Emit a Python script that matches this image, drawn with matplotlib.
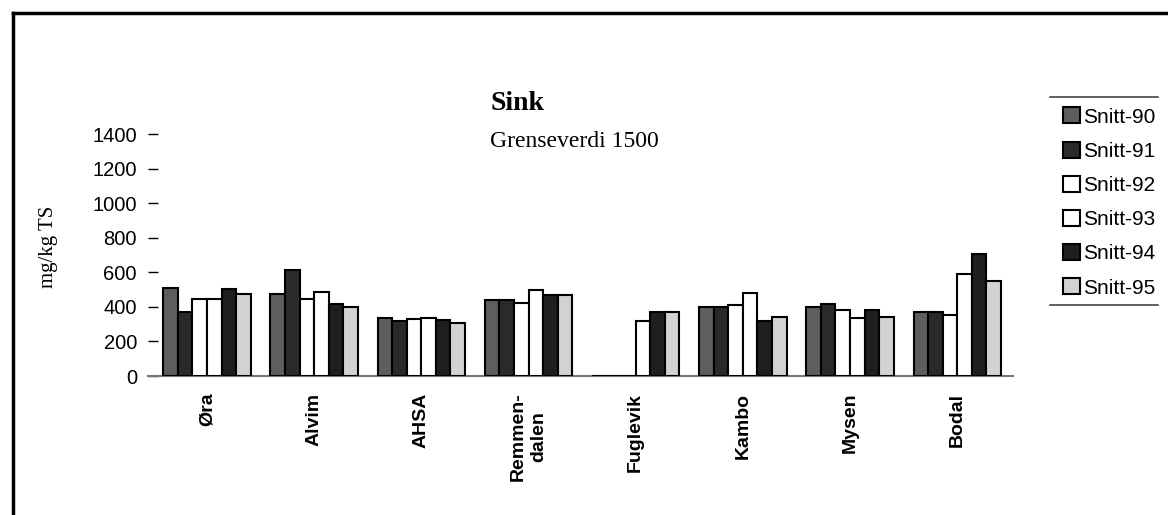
import matplotlib.pyplot as plt
import numpy as np
from matplotlib.lines import Line2D

# Sink, mg/kg TS, average per year for each plant
sites = ['Øra', 'Alvim', 'AHSA', 'Remmen-\ndalen', 'Fuglevik', 'Kambo', 'Mysen', 'Bodal']
series = ['Snitt-90', 'Snitt-91', 'Snitt-92', 'Snitt-93', 'Snitt-94', 'Snitt-95']
snitt_90 = [509, 474, 335, 441, 0, 399, 399, 368]
snitt_91 = [373, 611, 319, 441, 0, 399, 416, 373]
snitt_92 = [447, 445, 329, 422, 0, 412, 383, 352]
snitt_93 = [447, 484, 335, 495, 319, 480, 335, 592]
snitt_94 = [503, 418, 325, 466, 373, 316, 379, 708]
snitt_95 = [476, 399, 306, 466, 373, 339, 339, 548]
values = [snitt_90, snitt_91, snitt_92, snitt_93, snitt_94, snitt_95]

colors = ['#5e5e5e', '#2a2a2a', '#ffffff', '#ffffff', '#1f1f1f', '#d2d2d2']

fig = plt.figure(figsize=(11.68, 5.15), dpi=100)
ax = fig.add_axes([148 / 1168, 1 - 376 / 515, 865 / 1168, 242 / 515])

x = np.arange(len(sites))
w = 0.136
for i, (name, vals) in enumerate(zip(series, values)):
    ax.bar(x + (i - 2.5) * w, vals, width=w, color=colors[i], edgecolor='black',
           linewidth=1.5, label=name, zorder=3)

ax.set_xlim(-0.55, 7.52)
ax.set_ylim(0, 1400)
ax.set_yticks(range(0, 1401, 200))
ax.tick_params(axis='y', direction='in', length=7, width=1, pad=8,
               labelsize=14.5, labelfontfamily='Liberation Sans')
ax.set_xticks(x)
ax.set_xticklabels(sites, rotation=90, fontsize=14, fontweight='bold',
                   family='Liberation Sans', ha='center', va='top',
                   multialignment='center')
ax.tick_params(axis='x', length=0, pad=12)
for s in ['left', 'top', 'right']:
    ax.spines[s].set_visible(False)
ax.spines['bottom'].set_color('#777777')
ax.spines['bottom'].set_linewidth(1.5)

fig.text(49 / 1168, 1 - 247 / 515, 'mg/kg TS', rotation=90, ha='center', va='center',
         family='Liberation Serif', fontsize=15)
fig.text(490 / 1168, 1 - 110 / 515, 'Sink', ha='left', va='baseline',
         family='Liberation Serif', fontweight='bold', fontsize=20)
fig.text(490 / 1168, 1 - 147 / 515, 'Grenseverdi 1500', ha='left', va='baseline',
         family='Liberation Serif', fontsize=17)

leg = fig.legend(loc='upper left', bbox_to_anchor=(1053 / 1168, 1 - 97 / 515),
                 frameon=False, borderpad=0, labelspacing=0.72, handlelength=0.8,
                 handleheight=0.8, handletextpad=0.12,
                 prop={'family': 'Liberation Sans', 'size': 15})

# legend rules and outer frame of the page figure
fig.add_artist(Line2D([1050 / 1168, 1158 / 1168], [1 - 97 / 515] * 2, color='#444444', lw=1.2))
fig.add_artist(Line2D([1050 / 1168, 1158 / 1168], [1 - 305 / 515] * 2, color='#444444', lw=1.2))
fig.add_artist(Line2D([13 / 1168, 13 / 1168], [0, 1 - 13 / 515], color='black', lw=2.5))
fig.add_artist(Line2D([13 / 1168, 1], [1 - 13 / 515] * 2, color='black', lw=2.5))

fig.savefig('out.png', dpi=100)
